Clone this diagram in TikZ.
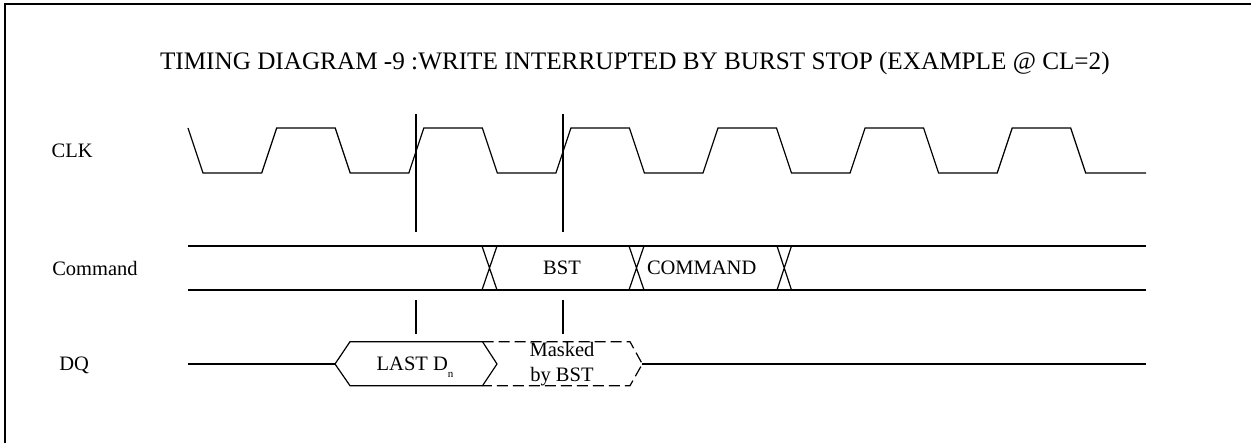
\documentclass[tikz,border=0pt]{standalone}
\usepackage{fontspec}
\setmainfont{Liberation Serif}
\begin{document}
\begin{tikzpicture}[x=1pt,y=-1pt,
  wave/.style={line width=1.2pt, line join=miter},
  frameline/.style={line width=1.6pt},
  lbl/.style={font=\fontsize{20.5}{25}\selectfont, inner sep=0pt, outer sep=0pt},
  titlelbl/.style={font=\fontsize{25.2}{30}\selectfont, inner sep=0pt, outer sep=0pt},
  maskline/.style={wave, dash pattern=on 11pt off 5pt}]
\useasboundingbox (0,0) rectangle (1251,443);
% frame
\draw[frameline] (5,443) -- (5,4) -- (1251,4);
% title
\node[titlelbl, anchor=base west] (title) at (160,69.5)
  {TIMING DIAGRAM -9 :WRITE INTERRUPTED BY BURST STOP (EXAMPLE @ CL=2)};
% signal labels
\node[lbl, anchor=base west] (clk) at (51.7,157.3) {CLK};
\node[lbl, anchor=base west] (cmd) at (52.3,276) {Command};
\node[lbl, anchor=base west] (dq) at (59.3,371) {DQ};
% clock
\draw[wave] (188,128) -- (203,173)
  foreach \k in {0,...,5} {
    -- ({261.7+147.1*\k},173) -- ({276.7+147.1*\k},128)
    -- ({335.2+147.1*\k},128) -- ({350.2+147.1*\k},173)
  } -- (1146,173);
% reference lines
\draw[wave] (416,114) -- (416,232) (416,300) -- (416,334);
\draw[wave] (563,114) -- (563,232) (563,300) -- (563,334);
% command bus
\draw[wave] (188,246) -- (1146,246);
\draw[wave] (188,290) -- (1146,290);
\foreach \a/\b in {482/497, 629/644, 777/791.5} {
  \draw[wave] (\a,246) -- (\b,290) (\b,246) -- (\a,290);
}
\node[lbl, anchor=base] (bst) at (562,275) {BST};
\node[lbl, anchor=base west] (command) at (647,275) {COMMAND};
% DQ
\draw[wave] (188,364) -- (335,364);
\draw[wave] (335,364) -- (350,341.7) -- (482.5,341.7) -- (497,364)
  -- (482.5,385.7) -- (350,385.7) -- cycle;
\draw[maskline] (482.5,341.7) -- (630,341.7) -- (642.3,364)
  -- (630,385.7) -- (482.5,385.7);
\draw[wave] (642.3,364) -- (1146,364);
\node[lbl, anchor=base west] (lastdn) at (376.7,370.7)
  {LAST D\raisebox{-7pt}{\fontsize{11}{11}\selectfont n}};
\node[lbl, align=center] (masked) at (562,364) {Masked\\by BST};
\end{tikzpicture}
\end{document}
